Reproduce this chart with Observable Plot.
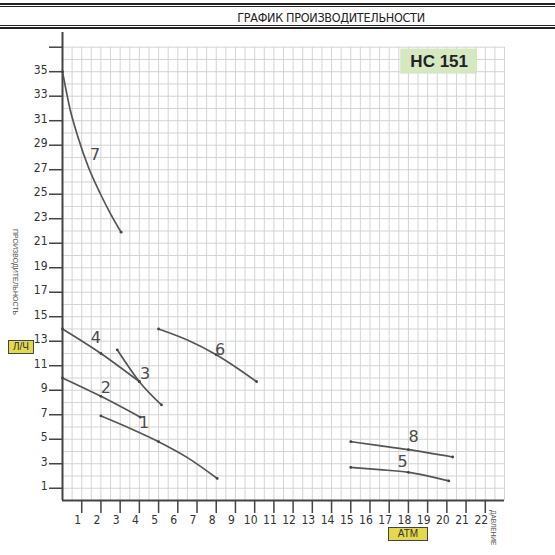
<!DOCTYPE html>
<html>
<head>
<meta charset="utf-8">
<script src="https://cdn.jsdelivr.net/npm/d3@7"></script>
<script src="https://cdn.jsdelivr.net/npm/@observablehq/plot@0.6"></script>
<style>
  html, body { margin: 0; padding: 0; background: #fff; }
  #wrap { position: relative; width: 555px; height: 555px; overflow: hidden; }
  #chart { position: absolute; left: 0; top: 0; }
  .hline { position: absolute; left: 0; width: 555px; background: #222; }
  #title { position: absolute; left: 0; width: 662px; top: 10px; text-align: center; letter-spacing: -0.3px;
           font-family: "Liberation Sans Narrow", "DejaVu Sans Condensed", sans-serif; font-size: 12.5px; color: #222; }
  .vlab { position: absolute; font-family: "Liberation Sans", "DejaVu Sans", sans-serif; color: #555;
          writing-mode: vertical-rl; white-space: nowrap; }
  .ybox { position: absolute; background: #e4d94e; border: 1.5px solid #444; box-sizing: border-box;
          font-family: "Liberation Sans", sans-serif; color: #333; text-align: center; }
</style>
</head>
<body>
<div id="wrap">
  <div id="chart"></div>
  <div class="hline" style="top:3px;height:2px"></div>
  <div class="hline" style="top:6px;height:1px"></div>
  <div class="hline" style="top:25px;height:1px"></div>
  <div class="hline" style="top:27px;height:2px"></div>
  <div id="title">ГРАФИК ПРОИЗВОДИТЕЛЬНОСТИ</div>
  <div class="vlab" style="left:12px;top:229px;font-size:7px;">ПРОИЗВОДИТЕЛЬНОСТЬ</div>
  <div class="ybox" style="left:8px;top:340px;width:26px;height:14px;font-size:10px;line-height:12px;">Л/Ч</div>
  <div class="ybox" style="left:388px;top:527px;width:40px;height:14px;font-size:10px;line-height:12px;">АТМ</div>
  <div class="vlab" style="left:490px;top:510px;font-size:6.5px;">ДАВЛЕНИЕ</div>
</div>
<script>
// ---- data: [pressure (atm), flow (l/h)] ----
const curve1 = [[2, 6.9], [3.5, 5.9], [5, 4.8], [6.5, 3.5], [8.05, 1.8]];
const curve2 = [[0, 10.0], [2, 8.5], [4.05, 6.8]];
const curve3 = [[2.85, 12.3], [4, 9.7], [5.15, 7.8]];
const curve4 = [[0, 14.0], [2, 12.0], [4, 9.7]];
const curve5 = [[15, 2.7], [16.5, 2.52], [18, 2.3], [20.1, 1.6]];
const curve6 = [[5, 14.0], [6.5, 13.1], [8, 11.9], [9.1, 10.8], [10.1, 9.7]];
const curve7 = [[0, 35.0], [0.4, 31.9], [0.8, 29.7], [1.35, 27.2], [1.95, 25.1], [2.5, 23.4], [3.05, 21.9]];
const curve8 = [[15, 4.8], [16.5, 4.48], [18, 4.15], [20.3, 3.55]];

const curveNames = ["1", "2", "3", "4", "5", "6", "7", "8"];
const curveLabelX = [4.25, 2.25, 4.3, 1.73, 17.7, 8.2, 1.69, 18.27];
const curveLabelY = [6.3, 9.2, 10.35, 13.3, 3.15, 12.3, 28.2, 5.2];

const xTicks = d3.range(1, 23);          // 1..22
const yTickMarks = d3.range(1, 38, 2);   // 1..37
const yTickLabels = d3.range(1, 36, 2);  // 1..35
const modelName = "HC 151";

const curves = [curve1, curve2, curve3, curve4, curve5, curve6, curve7, curve8];
const labelData = curveNames.map((n, i) => ({name: n, x: curveLabelX[i], y: curveLabelY[i]}));
const dotData = curves.flatMap(c => c.filter((p, i) => i === 0 || i === c.length - 1 || Number.isInteger(p[0])));

const lineColor = "#555";
const gridColor = "#d4d4d4";
const axisFont = "'Liberation Sans Narrow', 'DejaVu Sans Condensed', sans-serif";

const chart = Plot.plot({
  width: 555,
  height: 555,
  marginLeft: 62,
  marginRight: 51,
  marginTop: 32,
  marginBottom: 55,
  x: {domain: [0, 23]},
  y: {domain: [0, 38.2]},
  style: {fontFamily: axisFont, fontSize: "12px", color: "#333", background: "transparent"},
  marks: [
    Plot.ruleX(d3.range(0.5, 23.01, 0.5), {y1: 0, y2: 37, stroke: gridColor, strokeWidth: 1}),
    Plot.ruleY(d3.range(1, 38), {x1: 0, x2: 23, stroke: gridColor, strokeWidth: 1}),
    Plot.axisX({ticks: xTicks, tickSize: 13, tickFormat: () => "", label: null, stroke: "#444", strokeWidth: 1.5}),
    Plot.axisX({ticks: xTicks, tickSize: 0, tickPadding: 15, dx: -4, label: null, fill: "#333"}),
    Plot.axisY({ticks: yTickMarks, tickSize: 13, tickFormat: () => "", label: null, stroke: "#444", strokeWidth: 1.5}),
    Plot.axisY({ticks: yTickLabels, tickSize: 13, tickPadding: 2, dy: -2, label: null, tickFormat: d => String(d), stroke: "none", fill: "#333"}),
    Plot.ruleX([0], {y1: 0, y2: 38.2, stroke: "#444", strokeWidth: 2}),
    Plot.ruleY([0], {x1: 0, x2: 23, stroke: "#444", strokeWidth: 2}),
    Plot.rect([modelName], {x1: 17.6, x2: 21.6, y1: 34.8, y2: 36.85, fill: "#d5e8c2"}),
    Plot.text([modelName], {x: 19.6, y: 35.8, text: d => d, fontSize: 17, fontWeight: "bold", fill: "#222",
      fontFamily: "'Liberation Sans Narrow', 'Liberation Sans', sans-serif"}),
    ...curves.map(c => Plot.line(c, {x: d => d[0], y: d => d[1], curve: "monotone-x", stroke: lineColor, strokeWidth: 1.7})),
    Plot.dot(dotData, {x: d => d[0], y: d => d[1], r: 1.4, fill: "#444", stroke: "none"}),
    Plot.text(labelData, {x: "x", y: "y", text: "name", fontSize: 16, fill: "#4a4a4a",
      fontFamily: "'DejaVu Sans', sans-serif", fontWeight: "normal"})
  ]
});
document.getElementById("chart").appendChild(chart);
</script>
</body>
</html>
